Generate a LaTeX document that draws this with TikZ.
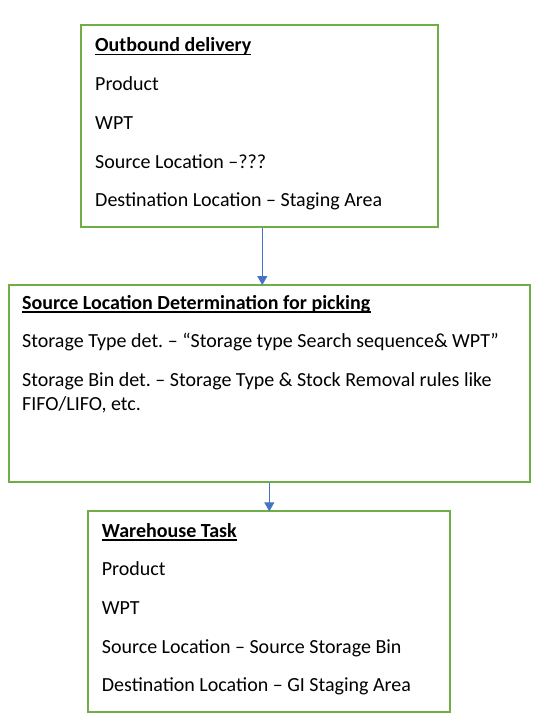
\documentclass[tikz,border=0pt]{standalone}
\usepackage{fontspec}
\setmainfont{Carlito}
\usetikzlibrary{arrows.meta}
\definecolor{boxgreen}{HTML}{70AD47}
\definecolor{arrowblue}{HTML}{4472C4}
\frenchspacing
\begin{document}
\begin{tikzpicture}[x=1pt,y=-1pt,
  box/.style={draw=boxgreen, line width=2pt, inner sep=0pt, anchor=north west},
  txt/.style={anchor=base west, inner sep=0pt, font=\fontsize{20}{24.4}\selectfont},
  ttl/.style={anchor=base west, inner sep=0pt, font=\fontsize{20}{24.4}\selectfont\bfseries},
  uline/.style={line width=1.4pt},
  arr/.style={draw=arrowblue, line width=1pt, shorten >=-1pt, -{Triangle[length=9pt,width=10pt]}}]
\useasboundingbox (0,0) rectangle (545,723);

% boxes
\node[box, minimum width=357pt, minimum height=201.4pt] (b1) at (80,24.3) {};
\node[box, minimum width=521.3pt, minimum height=197.3pt] (b2) at (8,284) {};
\node[box, minimum width=362.6pt, minimum height=200.4pt] (b3) at (86.7,510.3) {};

% box 1 text
\node[ttl] (t1) at (95,51.7) {Outbound delivery};
\node[txt] (t1a) at (95,90.3) {Product};
\node[txt] (t1b) at (95,129) {WPT};
\node[txt] (t1c) at (95,168) {Source Location –???};
\node[txt] (t1d) at (95,206.7) {Destination Location – Staging Area};

% box 2 text
\node[ttl] (t2) at (22,309) {Source Location Determination for picking};
\node[txt] (t2a) at (22,347.5) {Storage Type det. – “Storage type Search sequence\& WPT”};
\node[txt] (t2b) at (22,386) {Storage Bin det. – Storage Type \& Stock Removal rules like};
\node[txt] (t2c) at (22,410.4) {FIFO/LIFO, etc.};

% box 3 text
\node[ttl] (t3) at (101.7,537) {Warehouse Task};
\node[txt] (t3a) at (101.7,575) {Product};
\node[txt] (t3b) at (101.7,614) {WPT};
\node[txt] (t3c) at (101.7,653) {Source Location – Source Storage Bin};
\node[txt] (t3d) at (101.7,691) {Destination Location – GI Staging Area};

% underlines
\foreach \t in {t1,t2,t3}
  \draw[uline] ([yshift=-3pt]\t.base west) -- ([yshift=-3pt]\t.base east);

% arrows
\coordinate (a1) at (262.3,0);
\coordinate (a2) at (269.3,0);
\draw[arr] (b1.south -| a1) -- (b2.north -| a1);
\draw[arr] (b2.south -| a2) -- (b3.north -| a2);
\end{tikzpicture}
\end{document}
